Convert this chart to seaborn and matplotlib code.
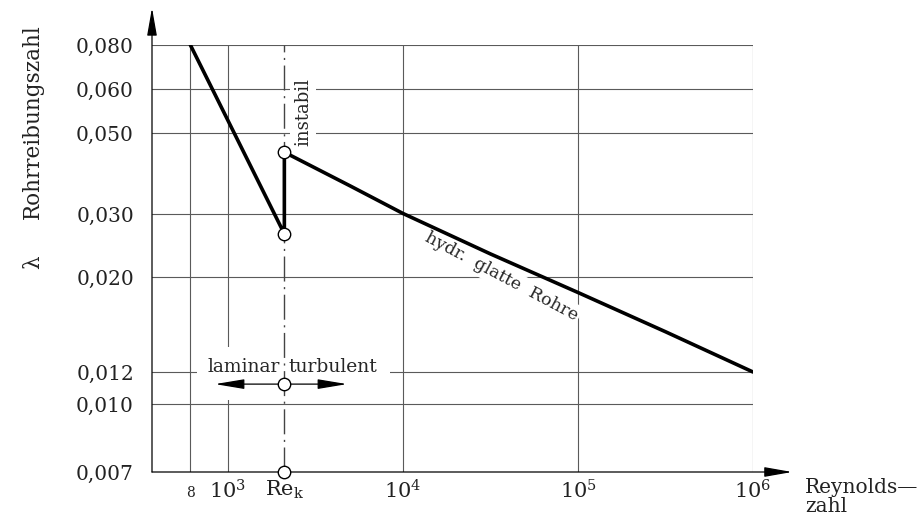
import numpy as np
import matplotlib
matplotlib.use("Agg")
import matplotlib.pyplot as plt
from matplotlib.patches import Rectangle
from matplotlib.ticker import NullLocator
from matplotlib.transforms import ScaledTranslation
import seaborn as sns

# Reynolds number ticks and labels (schematic log axis)
RE_TICKS = [610, 1000, 2100, 1e4, 1e5, 1e6]
RE_LABELS = ['8', '$10^3$', r'Re$_{\rm k}$', '$10^4$', '$10^5$', '$10^6$']
RE_K = 2100

# friction factor ticks
LAMBDA_TICKS = [0.007, 0.010, 0.012, 0.020, 0.030, 0.050, 0.060, 0.080]
LAMBDA_LABELS = ['0,007', '0,010', '0,012', '0,020', '0,030', '0,050', '0,060', '0,080']

# laminar branch (64/Re) and hydraulically smooth branch
LAM_RE = [610, 2100]
LAM_LAMBDA = [0.080, 0.0264]
TURB_RE = [2100, 5000, 1e4, 10**4.5, 1e5, 10**5.5, 1e6]
TURB_LAMBDA = [0.0443, 0.0358, 0.0301, 0.0232, 0.0184, 0.0149, 0.0120]

# marker circles on the Re_k line
CIRCLE_LAMBDA = [0.0443, 0.0264, 0.0112, 0.007]

# the drawing's y axis is only roughly logarithmic: tick heights (px from bottom)
Y_POS = [0, 68, 100, 195, 258, 339, 383, 427]
LOG_T = np.log10(LAMBDA_TICKS)


def fwd(v):
    v = np.maximum(np.asarray(v, dtype=float), 1e-9)
    return np.interp(np.log10(v), LOG_T, Y_POS)


def inv(p):
    return 10 ** np.interp(np.asarray(p, dtype=float), Y_POS, LOG_T)


sns.set_theme(style='white')
plt.rcParams['font.family'] = ['DejaVu Serif']
plt.rcParams['mathtext.fontset'] = 'dejavuserif'

fig = plt.figure(figsize=(9.21, 5.2), dpi=100)
ax = fig.add_axes([152 / 921, 48 / 520, 601 / 921, 427 / 520])

ax.set_xscale('log')
ax.set_yscale('function', functions=(fwd, inv))
ax.set_xlim(10 ** 2.566, 1e6)
ax.set_ylim(0.007, 0.080)

# grid
grid_kw = dict(color='#5a5a5a', lw=0.8, zorder=0.8)
for x in RE_TICKS:
    if x != RE_K:
        ax.axvline(x, **grid_kw)
for y in LAMBDA_TICKS[1:]:
    ax.axhline(y, **grid_kw)
ax.axvline(RE_K, color='#444444', lw=1.0, ls=(0, (18, 4, 1.5, 4)), zorder=2)

# white box behind laminar / turbulent
ax.add_patch(Rectangle((665, 0.01023), 8440 - 665, 0.01372 - 0.01023,
                       facecolor='white', edgecolor='none', zorder=1.5))

# curve
sns.lineplot(x=LAM_RE + TURB_RE, y=LAM_LAMBDA + TURB_LAMBDA, ax=ax,
             sort=False, estimator=None, color='black', lw=2.6, zorder=4)

sns.scatterplot(x=[RE_K] * len(CIRCLE_LAMBDA), y=CIRCLE_LAMBDA, ax=ax,
                s=80, color='white', edgecolor='black', linewidth=1.0,
                zorder=6, clip_on=False)

# laminar / turbulent arrows
arrow_kw = dict(arrowstyle='-|>,head_length=1.8,head_width=0.3', color='black',
                lw=0.9, shrinkA=0, shrinkB=0, mutation_scale=10)
ax.annotate('', xy=(843, 0.0112), xytext=(RE_K, 0.0112), arrowprops=arrow_kw, zorder=3)
ax.annotate('', xy=(4790, 0.0112), xytext=(RE_K, 0.0112), arrowprops=arrow_kw, zorder=3)
ax.text(1990, 0.01233, 'laminar', ha='right', va='center', fontsize=13.5, zorder=3)
ax.text(2220, 0.01233, 'turbulent', ha='left', va='center', fontsize=13.5, zorder=3)

ax.text(2680, 0.0545, 'instabil', rotation=90, ha='center', va='center', fontsize=13,
        zorder=3, bbox=dict(facecolor='white', edgecolor='none', pad=3))
ax.text(36300, 0.0201, 'hydr.  glatte  Rohre', rotation=-28, rotation_mode='anchor',
        ha='center', va='center', fontsize=12.5, zorder=3,
        bbox=dict(facecolor='white', edgecolor='none', pad=2))

# ticks
ax.set_xticks(RE_TICKS, labels=RE_LABELS)
ax.xaxis.set_minor_locator(NullLocator())
ax.set_yticks(LAMBDA_TICKS, labels=LAMBDA_LABELS)
ax.yaxis.set_minor_locator(NullLocator())
ax.tick_params(axis='y', length=0, pad=13, labelsize=14.5, colors='#222222')
ax.tick_params(axis='x', length=0, pad=5, labelsize=15, colors='#222222')
small = ax.get_xticklabels()[0]
small.set_fontsize(10)
small.set_transform(small.get_transform() + ScaledTranslation(0, -7 / 100, fig.dpi_scale_trans))

for s in ax.spines.values():
    s.set_visible(False)

# axis arrows
axis_kw = dict(arrowstyle='-|>,head_length=1.7,head_width=0.3', color='black',
               lw=0.9, shrinkA=0, shrinkB=0, mutation_scale=10)
ax.annotate('', xy=(0, 1.087), xytext=(0, 0), xycoords='axes fraction',
            arrowprops=axis_kw, annotation_clip=False)
ax.annotate('', xy=(1.065, 0), xytext=(0, 0), xycoords='axes fraction',
            arrowprops=axis_kw, annotation_clip=False)

fig.text(33 / 921, 1 - 122 / 520, 'Rohrreibungszahl', rotation=90,
         ha='center', va='center', fontsize=15.5, color='#222222')
fig.text(33 / 921, 1 - 262 / 520, 'λ', rotation=90,
         ha='center', va='center', fontsize=15.5, color='#222222')
fig.text(805 / 921, 1 - 497 / 520, 'Reynolds—\nzahl', ha='left', va='center',
         fontsize=14.5, color='#222222', linespacing=1.0)

fig.savefig('out.png', dpi=100)
